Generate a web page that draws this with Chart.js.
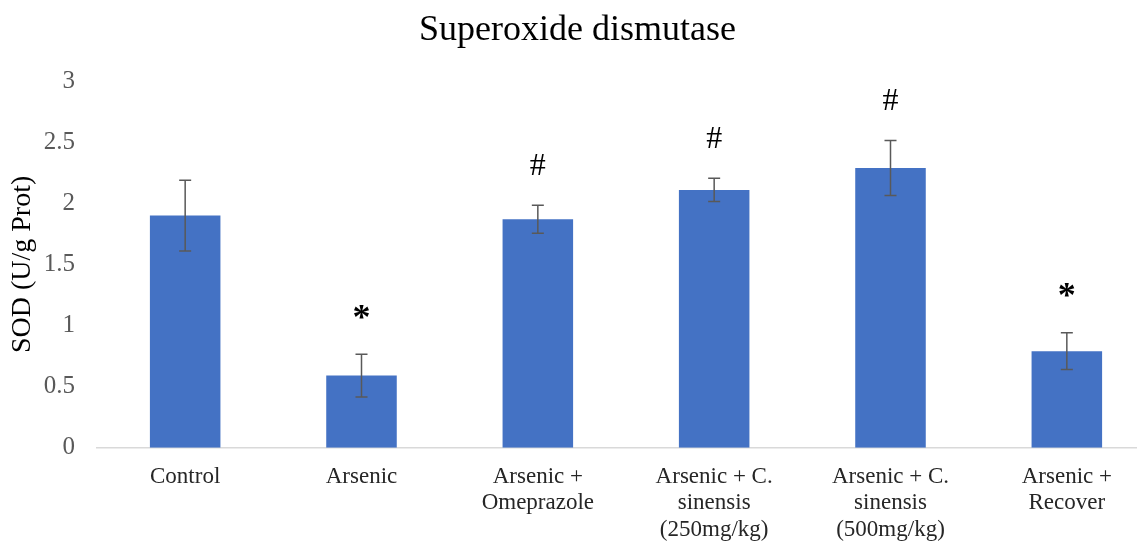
<!DOCTYPE html>
<html>
<head>
<meta charset="utf-8">
<script src="https://cdn.jsdelivr.net/npm/chart.js@4/dist/chart.umd.min.js"></script>
<style>
  html, body { margin: 0; padding: 0; background: #fff; overflow: hidden; }
  #wrap { position: relative; width: 1155px; height: 545px; }
</style>
</head>
<body>
<div id="wrap"><canvas id="sodChart"></canvas></div>
<script>
// data
const categories = [
  ['Control'],
  ['Arsenic'],
  ['Arsenic +', 'Omeprazole'],
  ['Arsenic + C.', 'sinensis', '(250mg/kg)'],
  ['Arsenic + C.', 'sinensis', '(500mg/kg)'],
  ['Arsenic +', 'Recover']
];
const sodValues = [1.90, 0.59, 1.87, 2.11, 2.29, 0.79];
const sodErrors = [0.29, 0.175, 0.115, 0.095, 0.225, 0.15];
const markers = ['', '*', '#', '#', '#', '*'];
const yTicks = [0, 0.5, 1, 1.5, 2, 2.5, 3];

const serif = '"Liberation Serif", "Times New Roman", serif';

// draws error bars and the significance marks above them
const errorBarPlugin = {
  id: 'errorBars',
  afterDatasetsDraw(chart) {
    const ctx = chart.ctx;
    const y = chart.scales.y;
    const meta = chart.getDatasetMeta(0);
    ctx.save();
    meta.data.forEach(function(bar, i) {
      const v = sodValues[i], e = sodErrors[i];
      const top = y.getPixelForValue(v + e);
      const bot = y.getPixelForValue(v - e);
      ctx.strokeStyle = '#595959';
      ctx.lineWidth = 1.5;
      ctx.beginPath();
      ctx.moveTo(bar.x, top); ctx.lineTo(bar.x, bot);
      ctx.moveTo(bar.x - 6, top); ctx.lineTo(bar.x + 6, top);
      ctx.moveTo(bar.x - 6, bot); ctx.lineTo(bar.x + 6, bot);
      ctx.stroke();
      if (markers[i]) {
        ctx.fillStyle = '#000';
        ctx.textAlign = 'center';
        ctx.textBaseline = 'middle';
        if (markers[i] === '*') {
          ctx.font = 'bold 36px ' + serif;
          ctx.fillText('*', bar.x, top - 35);
        } else {
          ctx.font = '32px ' + serif;
          ctx.fillText('#', bar.x, top - 39);
        }
      }
    });
    ctx.restore();
  }
};

new Chart(document.getElementById('sodChart'), {
  type: 'bar',
  data: {
    labels: categories,
    datasets: [{
      data: sodValues,
      backgroundColor: '#4472C4',
      barPercentage: 0.4,
      categoryPercentage: 1.0
    }]
  },
  options: {
    responsive: true,
    maintainAspectRatio: false,
    animation: false,
    layout: { padding: { left: 0, right: 0, top: 0, bottom: -14 } },
    plugins: {
      legend: { display: false },
      tooltip: { enabled: false },
      title: {
        display: true,
        text: 'Superoxide dismutase',
        color: '#000',
        font: { family: serif, size: 36, weight: 'normal' },
        padding: { top: 9, bottom: 29 }
      }
    },
    scales: {
      x: {
        grid: { display: false, drawTicks: false },
        border: { color: '#d9d9d9', width: 1.5 },
        ticks: {
          color: '#262626',
          font: { family: serif, size: 23, lineHeight: 1.15 },
          padding: 16,
          maxRotation: 0,
          autoSkip: false
        }
      },
      y: {
        min: 0,
        max: 3,
        afterBuildTicks(axis) { axis.ticks = yTicks.map(v => ({ value: v })); },
        afterFit(axis) { axis.width = 97; },
        grid: { display: false, drawTicks: false },
        border: { display: false },
        ticks: {
          color: '#595959',
          font: { family: serif, size: 25 },
          padding: 22,
          callback: v => String(v)
        },
        title: {
          display: true,
          text: 'SOD (U/g Prot)',
          color: '#000',
          font: { family: serif, size: 28 },
          padding: { top: 6, bottom: 0 }
        }
      }
    }
  },
  plugins: [errorBarPlugin]
});
</script>
</body>
</html>
